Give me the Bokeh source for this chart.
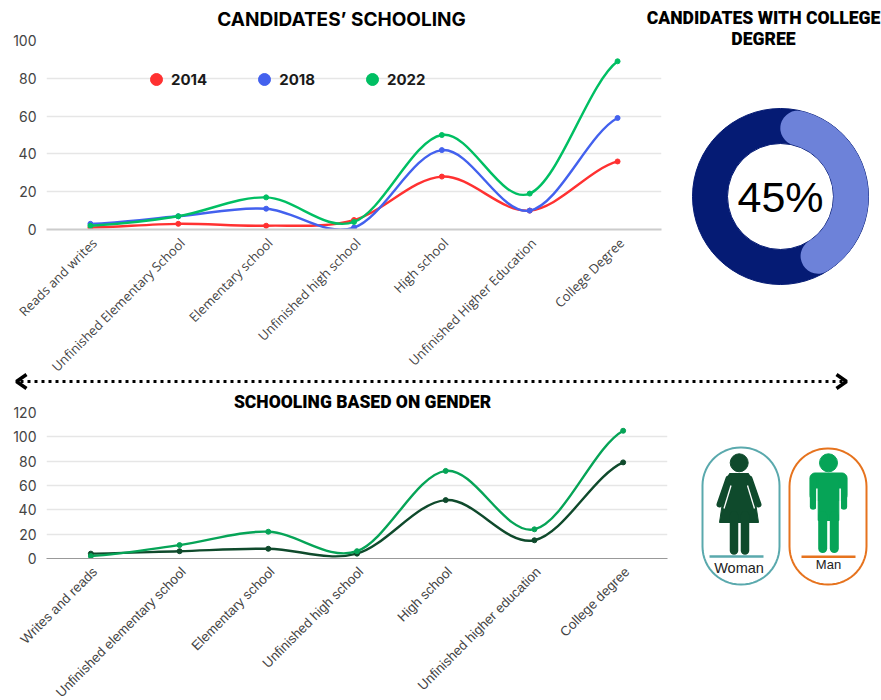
import math
import numpy as np
from bokeh.core.properties import value
from bokeh.embed import file_html
from bokeh.resources import INLINE
from bokeh.plotting import figure
from bokeh.layouts import column, row
from bokeh.models import (ColumnDataSource, Range1d, FixedTicker, Label, Legend, LegendItem)

# ---------- data ----------
levels_top = ["Reads and writes", "Unfinished Elementary School", "Elementary school",
              "Unfinished high school", "High school", "Unfinished Higher Education", "College Degree"]
y2014 = [1, 3, 2, 5, 28, 10, 36]
y2018 = [3, 7, 11, 1, 42, 10, 59]
y2022 = [2, 7, 17, 4, 50, 19, 89]
levels_bottom = ["Writes and reads", "Unfinished elementary school", "Elementary school",
                 "Unfinished high school", "High school", "Unfinished higher education", "College degree"]
woman = [4, 6, 8, 4, 48, 15, 79]
man = [2, 11, 22, 6, 72, 24, 105]
college_share = 45
ticks_top = [0, 20, 40, 60, 80, 100]
ticks_bottom = [0, 20, 40, 60, 80, 100, 120]

RED, BLUE, GREEN = "#FF3131", "#4361EE", "#00BF63"
DARK, MID = "#0F4A2C", "#06A457"
HEAVY = "Roboto Black"
TICK = "#444444"
TENSION = 1 / 6
LABEL_SHIFT = 0.045  # the slanted labels end a little to the right of their category


def curve(p, ys, color):
    """Smooth curve through the values, with the points on top."""
    n = len(ys)
    xs = list(range(n))
    slope = [(ys[min(i + 1, n - 1)] - ys[max(i - 1, 0)]) for i in range(n)]
    src = ColumnDataSource(dict(
        x0=xs[:-1], y0=ys[:-1], x1=xs[1:], y1=ys[1:],
        cx0=[x + 1 / 3 for x in xs[:-1]],
        cy0=[ys[i] + TENSION * slope[i] for i in range(n - 1)],
        cx1=[x - 1 / 3 for x in xs[1:]],
        cy1=[ys[i + 1] - TENSION * slope[i + 1] for i in range(n - 1)],
    ))
    p.bezier("x0", "y0", "x1", "y1", "cx0", "cy0", "cx1", "cy1", source=src,
             line_color=color, line_width=2.4)
    return p.scatter(xs, ys, size=5, color=color)


def chart(width, height, left, right, top, bottom, ymax, ticks, labels, grid_width, base_color, base_width,
          label_font, label_size):
    p = figure(width=width, height=height, output_backend="svg", toolbar_location=None,
               x_range=Range1d(-0.5, 6.5), y_range=Range1d(0, ymax),
               min_border_left=left, min_border_right=right, min_border_top=top, min_border_bottom=bottom)
    p.outline_line_color = None
    p.border_fill_alpha = 0
    p.background_fill_alpha = 0
    p.xgrid.visible = False
    p.ygrid.ticker = FixedTicker(ticks=ticks)
    p.ygrid.grid_line_color = "#E6E6E6"
    p.ygrid.grid_line_width = grid_width
    p.yaxis.ticker = FixedTicker(ticks=ticks)
    p.yaxis.axis_line_color = None
    p.yaxis.major_tick_line_color = None
    p.yaxis.minor_tick_line_color = None
    p.yaxis.major_label_text_font = "Inter"
    p.yaxis.major_label_text_font_size = "14px"
    p.yaxis.major_label_text_color = TICK
    p.yaxis.major_label_standoff = 4
    tick_pos = [i + LABEL_SHIFT for i in range(7)]
    p.xaxis.ticker = FixedTicker(ticks=tick_pos)
    p.xaxis.major_label_overrides = dict(zip(tick_pos, labels))
    p.xaxis.major_label_orientation = math.pi / 4
    p.xaxis.major_label_text_font = label_font
    p.xaxis.major_label_text_font_size = label_size
    p.xaxis.major_label_text_color = TICK
    p.xaxis.major_label_standoff = 5
    p.xaxis.major_tick_line_color = None
    p.xaxis.minor_tick_line_color = None
    p.xaxis.axis_line_color = base_color
    p.xaxis.axis_line_width = base_width
    return p


def page_fig(x0, x1, ytop, ybottom):
    """A drawing area whose units are the pixels of the page."""
    p = figure(width=x1 - x0, height=ybottom - ytop, output_backend="svg", toolbar_location=None,
               x_range=Range1d(x0, x1), y_range=Range1d(ybottom, ytop),
               min_border=0, min_border_left=0, min_border_right=0, min_border_top=0, min_border_bottom=0)
    p.axis.visible = False
    p.grid.visible = False
    p.outline_line_color = None
    p.border_fill_alpha = 0
    p.background_fill_alpha = 0
    return p


def heading(p, text, x, y, size, font=HEAVY, style="normal"):
    p.add_layout(Label(x=x, y=y, text=text, text_font=font, text_font_size=size, text_color="#000000",
                       text_font_style=style, text_align="center", text_baseline="middle"))


def rounded(x0, x1, y0, y1, r):
    a = np.linspace(0, math.pi / 2, 16)
    xs = np.concatenate([x1 - r + r * np.sin(a), x1 - r + r * np.cos(a), x0 + r - r * np.sin(a), x0 + r - r * np.cos(a)])
    ys = np.concatenate([y0 + r - r * np.cos(a), y1 - r + r * np.sin(a), y1 - r + r * np.cos(a), y0 + r - r * np.sin(a)])
    return np.append(xs, xs[0]), np.append(ys, ys[0])


# ---------- top strip with the first title lines ----------
strip1 = page_fig(0, 881, 0, 32)
heading(strip1, "CANDIDATES’ SCHOOLING", 341, 19, "19px", "Inter", "bold")
heading(strip1, "CANDIDATES WITH COLLEGE", 763, 17, "17.6px")

# ---------- first chart ----------
c1 = chart(670, 362, 46, 9, 8, 165, 100, ticks_top, levels_top, 1.5, "#CCCCCC", 2, "Open Sans", "13px")
r1 = curve(c1, y2014, RED)
r2 = curve(c1, y2018, BLUE)
r3 = curve(c1, y2022, GREEN)
legend = Legend(items=[LegendItem(label="2014", renderers=[r1]),
                       LegendItem(label="2018", renderers=[r2]),
                       LegendItem(label="2022", renderers=[r3])],
                orientation="horizontal", location=(95, 135), padding=0, margin=0, spacing=42,
                glyph_width=30, glyph_height=30, label_standoff=-6,
                background_fill_alpha=0, border_line_color=None,
                label_text_font="Inter", label_text_font_style="bold", label_text_font_size="15px",
                label_text_color="#1A1A1A")
c1.add_layout(legend)

# ---------- donut ----------
donut = page_fig(670, 881, 24, 372)
donut.margin = (-8, 0, 0, 0)
donut.y_range = Range1d(700 - 372, 700 - 24)
cx, cy = 780, 700 - 196
ro, ri = 88, 53
mid, band = (ro + ri) / 2, ro - ri
donut.annulus([cx], [cy], inner_radius=ri, outer_radius=ro, color="#051B74")
cap = (band / 2) / mid
start = math.pi / 2 - cap
end = math.pi / 2 - college_share / 100 * 2 * math.pi + cap
donut.arc([cx], [cy], radius=mid, start_angle=start, end_angle=end, direction="clock",
          line_color="#6D82D9", line_width=band, line_cap="round")
donut.add_layout(Label(x=cx, y=cy, text=f"{college_share}%", text_font="Liberation Sans", text_font_size="43px",
                       text_color="#000000", text_align="center", text_baseline="middle"))
heading(donut, "DEGREE", 763, 700 - 38, "17.6px")

# ---------- divider and the second title ----------
strip2 = page_fig(0, 881, 372, 412)
strip2.margin = (-22, 0, 0, 0)
strip2.line([20, 842], [381, 381], line_color="#000000", line_width=3, line_dash="3 4")
strip2.line([26, 16, 26], [374, 381, 388], line_color="#000000", line_width=3.5)
strip2.line([836, 846, 836], [374, 381, 388], line_color="#000000", line_width=3.5)
heading(strip2, "SCHOOLING BASED ON GENDER", 362, 401, "17.5px")

# ---------- second chart ----------
c2 = chart(675, 331, 46, 8, 20, 165, 120, ticks_bottom, levels_bottom, 1.5, "#999999", 1,
           "Liberation Sans", "13.5px")
curve(c2, woman, DARK)
curve(c2, man, MID)

# ---------- icons ----------
ic = page_fig(675, 881, 392, 700)
px, py = rounded(702, 779, 447, 584, 38)
ic.line(px, py, line_color="#5AA9AD", line_width=2)
px, py = rounded(789, 866, 448, 584, 38)
ic.line(px, py, line_color="#E6731E", line_width=2)

# woman
ic.circle([738.7], [462.3], radius=9, color=DARK)
ic.patch([729, 748, 752, 758, 719, 725], [473, 473, 482, 522, 522, 482], color=DARK)
ic.line([728, 719], [478, 504], line_color=DARK, line_width=6, line_cap="round")
ic.line([749, 758], [478, 504], line_color=DARK, line_width=6, line_cap="round")
ic.line([730.5, 723.5], [485, 508], line_color="#FFFFFF", line_width=1.3)
ic.line([747, 754], [485, 508], line_color="#FFFFFF", line_width=1.3)
ic.line([733.5, 733.5], [515, 550], line_color=DARK, line_width=8.5, line_cap="round")
ic.line([744.5, 744.5], [515, 550], line_color=DARK, line_width=8.5, line_cap="round")
ic.line([709, 763], [556, 556], line_color="#5AA9AD", line_width=2.5)
ic.text([738.5], [567], text=["Woman"], text_font_size="14.5px", text_align="center", text_baseline="middle",
        text_color="#222222", text_font=value("Liberation Sans"))

# man
ic.circle([828], [462.3], radius=9, color=MID)
bx, by = rounded(809.5, 846.5, 472.5, 500, 5)
ic.patch(bx, by, color=MID)
ic.line([812.6, 812.6], [478, 506], line_color=MID, line_width=6.5, line_cap="round")
ic.line([843.4, 843.4], [478, 506], line_color=MID, line_width=6.5, line_cap="round")
ic.line([816.5, 816.5], [488, 510], line_color="#FFFFFF", line_width=1.8)
ic.line([839.5, 839.5], [488, 510], line_color="#FFFFFF", line_width=1.8)
ic.patch([817.7, 838.3, 838.3, 817.7], [480, 480, 520, 520], color=MID)
ic.line([822.2, 822.2], [515, 548], line_color=MID, line_width=9, line_cap="round")
ic.line([833.8, 833.8], [515, 548], line_color=MID, line_width=9, line_cap="round")
ic.line([801, 855], [556.3, 556.3], line_color="#E6731E", line_width=2.5)
ic.text([828], [564], text=["Man"], text_font_size="13px", text_align="center", text_baseline="middle",
        text_color="#222222", text_font=value("Liberation Sans"))

top_row = row(column(c1), column(donut), spacing=0)
bottom_row = row(column(c2), column(ic), spacing=0, margin=(-20, 0, 0, 0))
page = column(strip1, top_row, strip2, bottom_row, spacing=0, width=881, height=700,
              styles={"overflow": "hidden"})
open("out.html", "w").write(file_html(page, INLINE))
